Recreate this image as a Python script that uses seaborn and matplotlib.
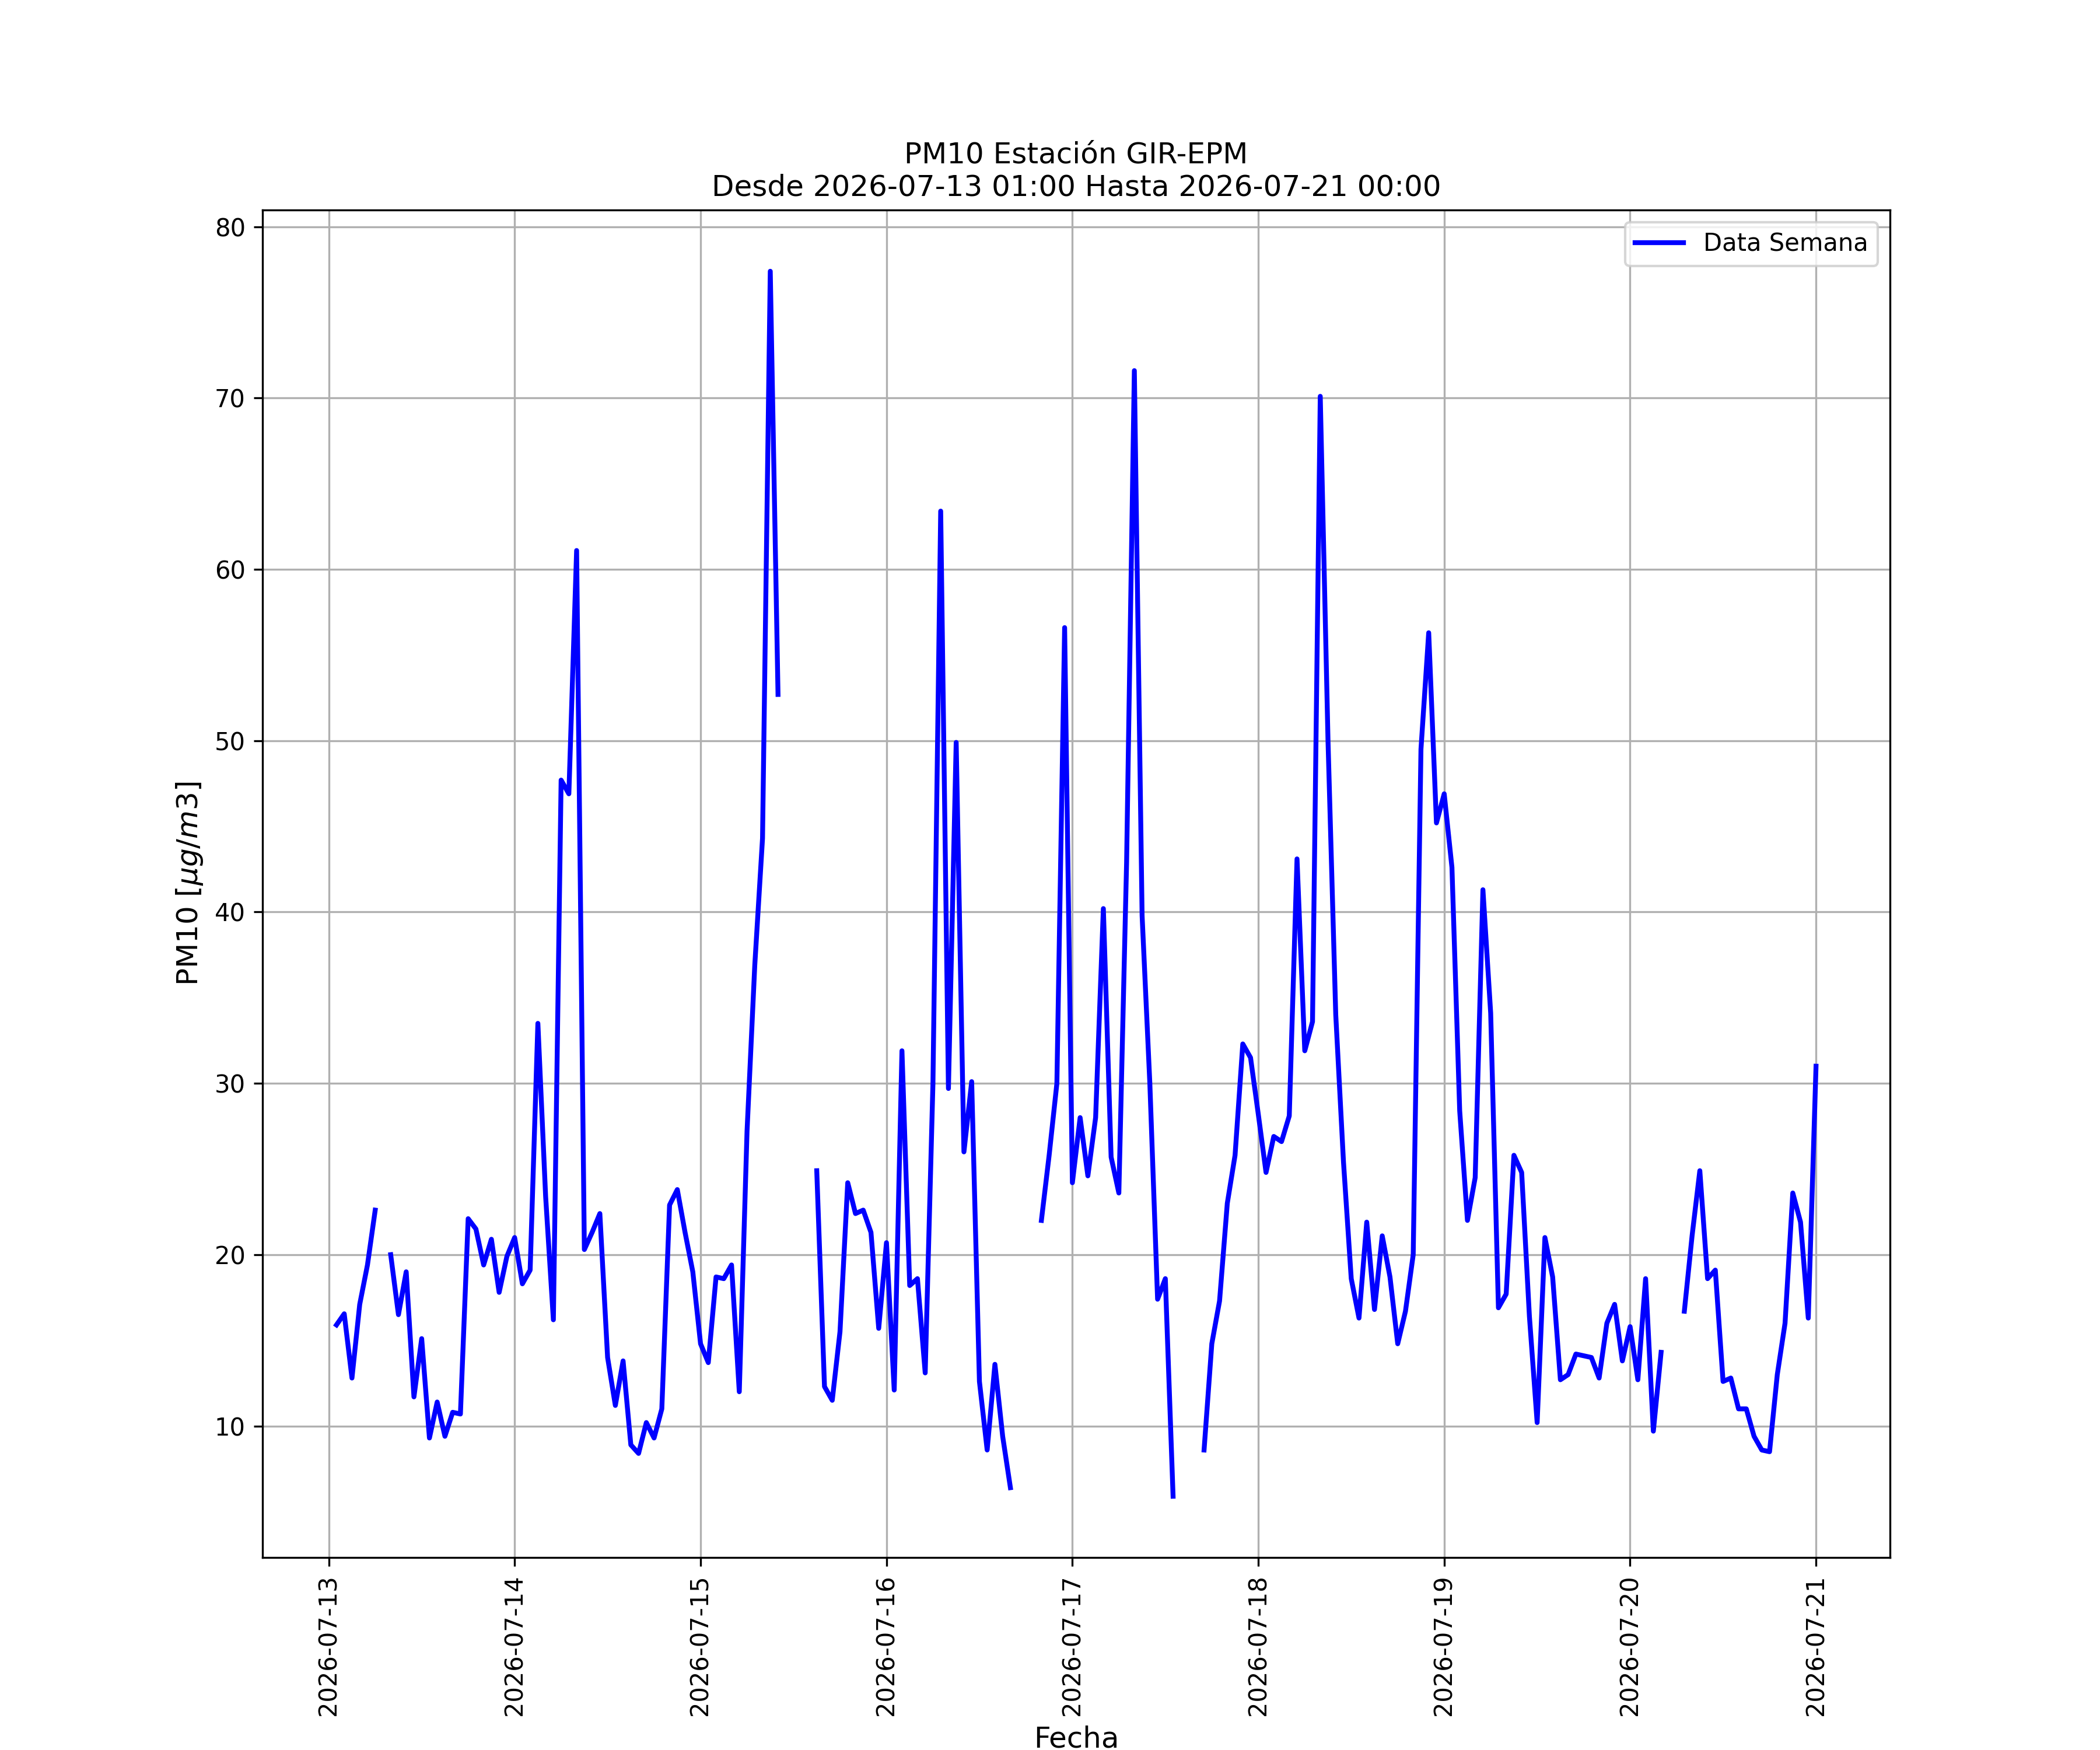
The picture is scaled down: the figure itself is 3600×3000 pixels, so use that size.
import numpy as np
import pandas as pd
import matplotlib
matplotlib.use("Agg")
import matplotlib.pyplot as plt
import matplotlib.dates as mdates
import seaborn as sns

# Datos horarios PM10 (ug/m3), desde 2026-07-13 01:00 hasta 2026-07-21 00:00
# NaN = hora sin dato
INICIO = "2026-07-13 01:00"
FIN = "2026-07-21 00:00"

dia_13 = [15.9, 16.55, 12.8, 17.1, 19.4, 22.6, np.nan, 20.0, 16.5, 19.0, 11.7, 15.1,
          9.3, 11.4, 9.4, 10.8, 10.7, 22.1, 21.5, 19.4, 20.9, 17.8, 19.9, 21.0]
dia_14 = [18.3, 19.1, 33.5, 23.4, 16.2, 47.7, 46.9, 61.1, 20.3, 21.3, 22.4, 14.0,
          11.2, 13.8, 8.9, 8.4, 10.2, 9.3, 11.0, 22.9, 23.8, 21.3, 19.0, 14.8]
dia_15 = [13.7, 18.7, 18.6, 19.4, 12.0, 27.2, 36.9, 44.3, 77.4, 52.7, np.nan, np.nan,
          np.nan, np.nan, 24.9, 12.3, 11.5, 15.5, 24.2, 22.4, 22.6, 21.3, 15.7, 20.7]
dia_16 = [12.1, 31.9, 18.2, 18.6, 13.1, 30.0, 63.4, 29.7, 49.9, 26.0, 30.1, 12.6,
          8.6, 13.6, 9.4, 6.4, np.nan, np.nan, np.nan, 22.0, 25.8, 30.0, 56.6, 24.2]
dia_17 = [28.0, 24.6, 28.0, 40.2, 25.7, 23.6, 42.9, 71.6, 39.8, 30.0, 17.4, 18.6,
          5.9, np.nan, np.nan, np.nan, 8.6, 14.8, 17.3, 23.0, 25.8, 32.3, 31.5, 28.2]
dia_18 = [24.8, 26.9, 26.6, 28.1, 43.1, 31.9, 33.6, 70.1, 50.0, 34.0, 25.4, 18.6,
          16.3, 21.9, 16.8, 21.1, 18.7, 14.8, 16.7, 20.0, 49.5, 56.3, 45.2, 46.9]
dia_19 = [42.6, 28.4, 22.0, 24.5, 41.3, 34.1, 16.9, 17.7, 25.8, 24.8, 16.4, 10.2,
          21.0, 18.7, 12.7, 13.0, 14.2, 14.1, 14.0, 12.8, 16.0, 17.1, 13.8, 15.8]
dia_20 = [12.7, 18.6, 9.7, 14.3, np.nan, np.nan, 16.7, 21.1, 24.9, 18.6, 19.1, 12.6,
          12.8, 11.0, 11.0, 9.4, 8.6, 8.5, 13.0, 16.0, 23.6, 21.9, 16.3, 31.0]

pm10 = dia_13 + dia_14 + dia_15 + dia_16 + dia_17 + dia_18 + dia_19 + dia_20
fechas = pd.date_range(INICIO, FIN, freq="h")

df = pd.DataFrame({"Fecha": fechas, "PM10": pm10})
# cada tramo continuo se dibuja como una unidad, asi los huecos no se unen
df["tramo"] = df["PM10"].isna().cumsum()
df = df.dropna(subset=["PM10"])

fig, ax = plt.subplots(figsize=(12, 10))
sns.lineplot(data=df, x="Fecha", y="PM10", units="tramo", estimator=None,
             color="blue", linewidth=2, ax=ax, legend=False)

ax.grid(True, color="#b0b0b0", linewidth=0.8)
ax.set_axisbelow(True)
ax.xaxis.set_major_locator(mdates.DayLocator())
ax.xaxis.set_major_formatter(mdates.DateFormatter("%Y-%m-%d"))
plt.setp(ax.get_xticklabels(), rotation=90)

ax.set_title("PM10 Estación GIR-EPM\nDesde %s Hasta %s" % (INICIO, FIN), fontsize=12)
ax.set_xlabel("Fecha", fontsize=12)
ax.set_ylabel(r"PM10 [$\mu g/m3$]", fontsize=12)
ax.legend(handles=[ax.lines[0]], labels=["Data Semana"], loc="upper right")

fig.savefig("out.png", dpi=300)
